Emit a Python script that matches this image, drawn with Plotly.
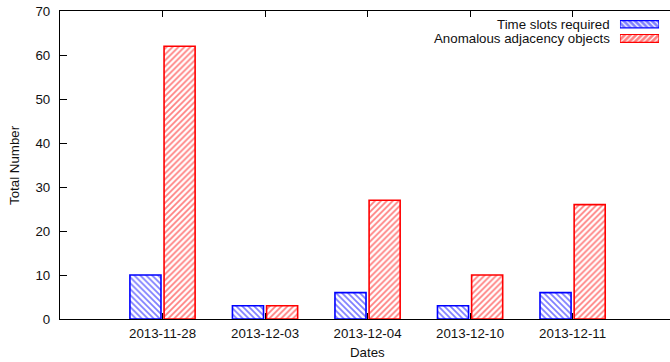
import plotly.graph_objects as go

# Data
dates = ["2013-11-28", "2013-12-03", "2013-12-04", "2013-12-10", "2013-12-11"]
time_slots = [10, 3, 6, 3, 6]
anomalous = [62, 3, 27, 10, 26]
series_names = ["Time slots required", "Anomalous adjacency objects"]
y_ticks = [0, 10, 20, 30, 40, 50, 60, 70]

positions = list(range(1, len(dates) + 1))
FONT = dict(family="Liberation Sans, Arial, sans-serif", size=13.3, color="#111")
BLUE = "#0000ff"
RED = "#ff0000"

fig = go.Figure()

# Main grouped bars (explicit offsets so the two bars sit side by side)
fig.add_trace(go.Bar(
    x=positions, y=time_slots, name=series_names[0], showlegend=False,
    offset=-0.318, width=0.303,
    marker=dict(color="white", line=dict(color=BLUE, width=1.6),
                pattern=dict(shape="\\", fgcolor=BLUE, bgcolor="white",
                             size=4.2, solidity=0.42)),
))
fig.add_trace(go.Bar(
    x=positions, y=anomalous, name=series_names[1], showlegend=False,
    offset=0.015, width=0.303,
    marker=dict(color="white", line=dict(color=RED, width=1.6),
                pattern=dict(shape="/", fgcolor=RED, bgcolor="white",
                             size=4.2, solidity=0.42)),
))

# Key swatches drawn on a small inset axis pair in the upper right
fig.add_trace(go.Bar(
    y=[0], x=[1], orientation="h", width=0.5, showlegend=False,
    xaxis="x2", yaxis="y2", hoverinfo="skip",
    marker=dict(color="white", line=dict(color=BLUE, width=1.2),
                pattern=dict(shape="\\", fgcolor=BLUE, bgcolor="white",
                             size=4, solidity=0.7)),
))
fig.add_trace(go.Bar(
    y=[1], x=[1], orientation="h", width=0.55, showlegend=False,
    xaxis="x2", yaxis="y2", hoverinfo="skip",
    marker=dict(color="white", line=dict(color=RED, width=1.2),
                pattern=dict(shape="/", fgcolor=RED, bgcolor="white",
                             size=4, solidity=0.7)),
))

annotations = [
    dict(text=series_names[0], xref="x2", yref="y2", x=0, y=0,
         xanchor="right", yanchor="middle", xshift=-8, showarrow=False, font=FONT),
    dict(text=series_names[1], xref="x2", yref="y2", x=0, y=1,
         xanchor="right", yanchor="middle", xshift=-8, showarrow=False, font=FONT),
    dict(text="Dates", xref="x", yref="paper", x=3, y=-0.108,
         xanchor="center", yanchor="middle", showarrow=False, font=FONT),
    dict(text="Total Number", xref="paper", yref="paper", x=-0.0755, y=0.5,
         xanchor="center", yanchor="middle", textangle=-90, showarrow=False, font=FONT),
]

fig.update_layout(
    width=670, height=362,
    margin=dict(l=60, r=0, t=11, b=43),
    paper_bgcolor="white", plot_bgcolor="white",
    font=FONT,
    barmode="overlay",
    annotations=annotations,
    xaxis=dict(
        range=[0, 5.95], tickmode="array", tickvals=positions, ticktext=dates,
        ticks="inside", ticklen=6, tickcolor="black", tickwidth=1,
        showline=True, linecolor="black", linewidth=1.3, mirror="ticks",
        showgrid=False, zeroline=False, ticklabelstandoff=2,
    ),
    yaxis=dict(
        range=[0, 70], tickmode="array", tickvals=y_ticks,
        ticks="inside", ticklen=7, tickcolor="black", tickwidth=1,
        showline=True, linecolor="black", linewidth=1.2,
        showgrid=False, zeroline=False, ticklabelstandoff=6,
    ),
    xaxis2=dict(domain=[0.918, 0.982], range=[0, 1], anchor="y2",
                visible=False, fixedrange=True),
    yaxis2=dict(domain=[0.888, 0.98], range=[1.5, -0.5], anchor="x2",
                visible=False, fixedrange=True),
)

fig.write_html("out.html")
